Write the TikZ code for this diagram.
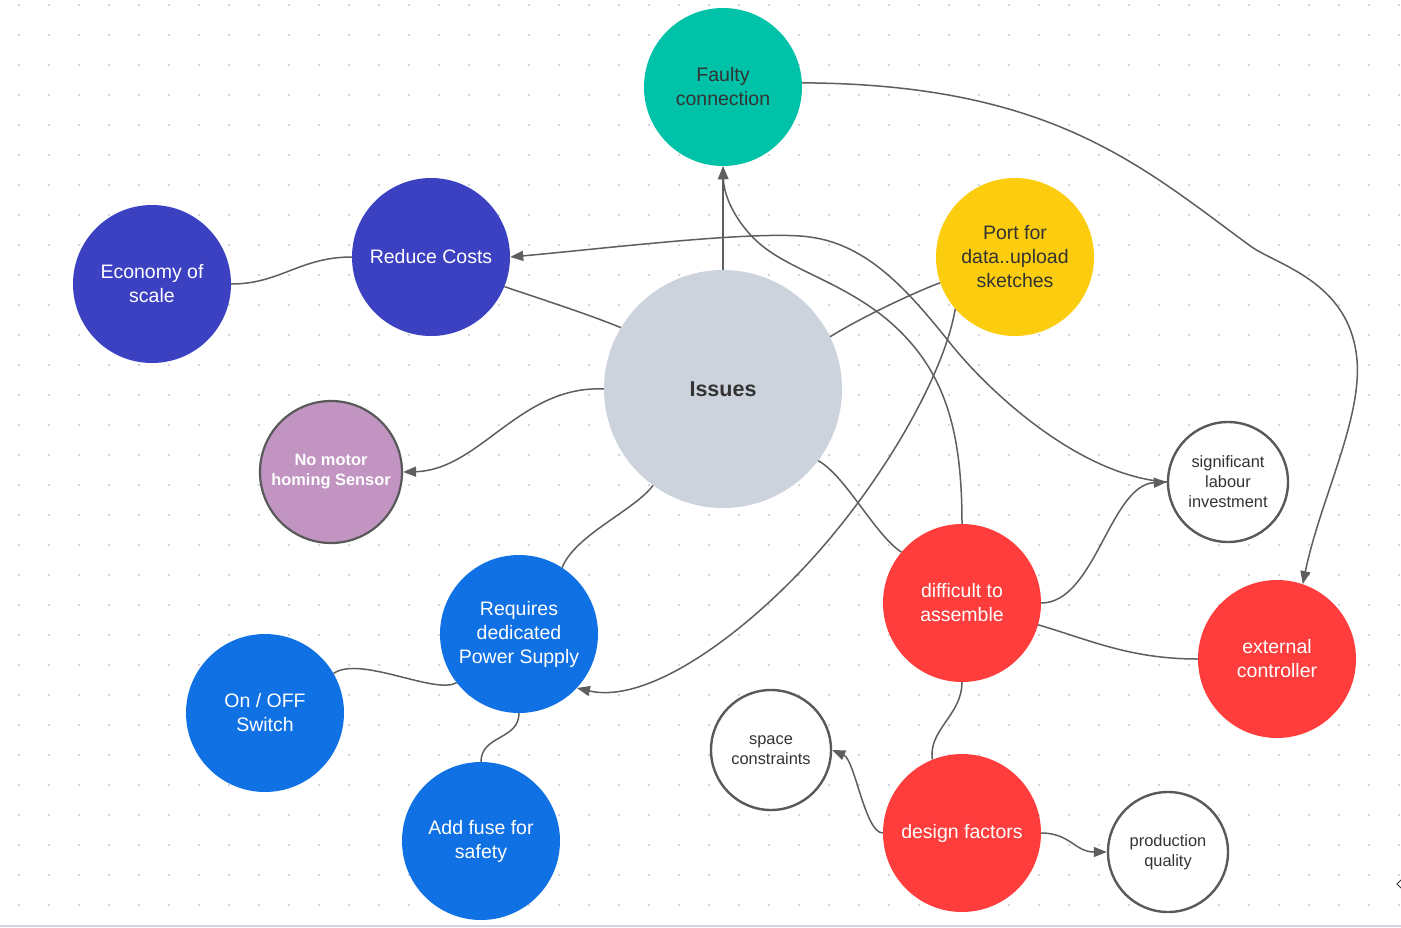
\documentclass[tikz,border=0pt]{standalone}
\usepackage{fontspec}
\setmainfont{Liberation Sans}
\usetikzlibrary{arrows.meta}
\definecolor{cteal}{HTML}{00C2A8}
\definecolor{cindigo}{HTML}{3C41C1}
\definecolor{cyellow}{HTML}{FBCD0E}
\definecolor{cgray}{HTML}{CDD3DC}
\definecolor{cpurple}{HTML}{C194C2}
\definecolor{cblue}{HTML}{1071E5}
\definecolor{cred}{HTML}{FF3D3D}
\definecolor{linec}{HTML}{5E5E5E}
\definecolor{bord}{HTML}{595959}
\definecolor{txtdark}{HTML}{333333}
\definecolor{dotc}{HTML}{A8A8B8}
\definecolor{baseln}{HTML}{D5D5E3}
\tikzset{
  bub/.style={circle, minimum size=158pt, inner sep=0pt, align=center, font=\fontsize{19.5}{24}\selectfont},
  wbub/.style={circle, minimum size=120pt, inner sep=0pt, align=center, draw=bord, line width=2.4pt, fill=white, text=txtdark, font=\fontsize{16.4}{20}\selectfont},
  conn/.style={draw=linec, line width=1.5pt},
  arr/.style={-{Triangle[length=13pt,width=10pt]}},
  rarr/.style={{Triangle[length=13pt,width=10pt]}-},
}
\begin{document}
\begin{tikzpicture}[x=1pt,y=-1pt]
\useasboundingbox (0,0) rectangle (1401,927);
\fill[white] (0,0) rectangle (1401,927);
\foreach \i in {0,...,46} \foreach \j in {0,...,30} \fill[dotc] (19+30*\i, 5+30*\j) circle (0.9pt);
\fill[baseln] (0,924.5) rectangle (1401,927);

% nodes
\node[bub, fill=cteal, text=txtdark] (fc) at (723,87) {Faulty\\connection};
\node[bub, fill=cindigo, text=white] (rc) at (431,257) {Reduce Costs};
\node[bub, fill=cindigo, text=white] (eos) at (152,284) {Economy of\\scale};
\node[bub, fill=cyellow, text=txtdark] (pt) at (1015,257) {Port for\\data..upload\\sketches};
\node[circle, minimum size=238pt, inner sep=0pt, fill=cgray, text=txtdark, font=\fontsize{21.5}{26}\selectfont\bfseries] (iss) at (723,389) {Issues};
\node[circle, minimum size=142pt, inner sep=0pt, fill=cpurple, draw=bord, line width=2.2pt, text=white, align=center, font=\fontsize{16.4}{20}\selectfont\bfseries] (nm) at (331,472) {No motor\\homing Sensor};
\node[wbub] (sl) at (1228,482) {significant\\labour\\investment};
\node[bub, fill=cblue, text=white] (req) at (519,634) {Requires\\dedicated\\Power Supply};
\node[bub, fill=cred, text=white] (dta) at (962,603) {difficult to\\assemble};
\node[bub, fill=cred, text=white] (ext) at (1277,659) {external\\controller};
\node[bub, fill=cblue, text=white] (oo) at (265,713) {On / OFF\\Switch};
\node[wbub] (sc) at (771,750) {space\\constraints};
\node[bub, fill=cred, text=white] (df) at (962,833) {design factors};
\node[wbub] (pq) at (1168,852) {production\\quality};
\node[bub, fill=cblue, text=white] (af) at (481,841) {Add fuse for\\safety};

% connectors
\draw[conn,arr] (iss.north) -- (fc.south);
\draw[conn,arr] (fc.3) .. controls (1050,84) and (1140,165) .. (1249,245)
  .. controls (1275,265) and (1350,280) .. (1357,360)
  .. controls (1362,420) and (1320,500) .. (ext.71);
\draw[conn,rarr] (rc.east) .. controls (600,249) and (740,232) .. (800,236)
  .. controls (860,240) and (900,280) .. (950,343)
  .. controls (990,393) and (1080,476) .. (sl.west);
\draw[conn] (eos.east) .. controls (280,284) and (300,257) .. (rc.west);
\draw[conn] (rc.-22) .. controls (550,302) and (590,315) .. (iss.149);
\draw[conn] (pt.199) .. controls (915,292) and (860,318) .. (iss.26);
\draw[conn,arr] (pt.221) .. controls (945,370) and (890,470) .. (820,550)
  .. controls (750,630) and (650,705) .. (req.-43);
\draw[conn,arr] (iss.west) .. controls (520,385) and (480,470) .. (nm.east);
\draw[conn] (iss.234) .. controls (635,510) and (575,535) .. (req.57);
\draw[conn] (iss.-37) .. controls (845,475) and (875,535) .. (dta.140);
\draw[conn,arr] (dta.north) .. controls (962,430) and (945,370) .. (890,322)
  .. controls (845,283) and (790,270) .. (760,244)
  .. controls (740,227) and (724,200) .. (fc.south);
\draw[conn,arr] (dta.east) .. controls (1095,603) and (1110,485) .. (sl.west);
\draw[conn] (dta.-16) .. controls (1090,640) and (1130,659) .. (ext.west);
\draw[conn] (dta.south) .. controls (962,715) and (928,730) .. (df.112);
\draw[conn,arr] (df.west) .. controls (865,833) and (855,760) .. (sc.east);
\draw[conn,arr] (df.east) .. controls (1070,833) and (1075,852) .. (pq.west);
\draw[conn] (req.218) .. controls (435,695) and (360,655) .. (oo.30);
\draw[conn] (req.south) .. controls (519,740) and (481,735) .. (af.north);

% small chevron at right edge
\coordinate (chev) at (1397,884);
\draw[txtdark, line width=1pt] (1401,880) -- (chev) -- (1401,888);
\end{tikzpicture}
\end{document}
